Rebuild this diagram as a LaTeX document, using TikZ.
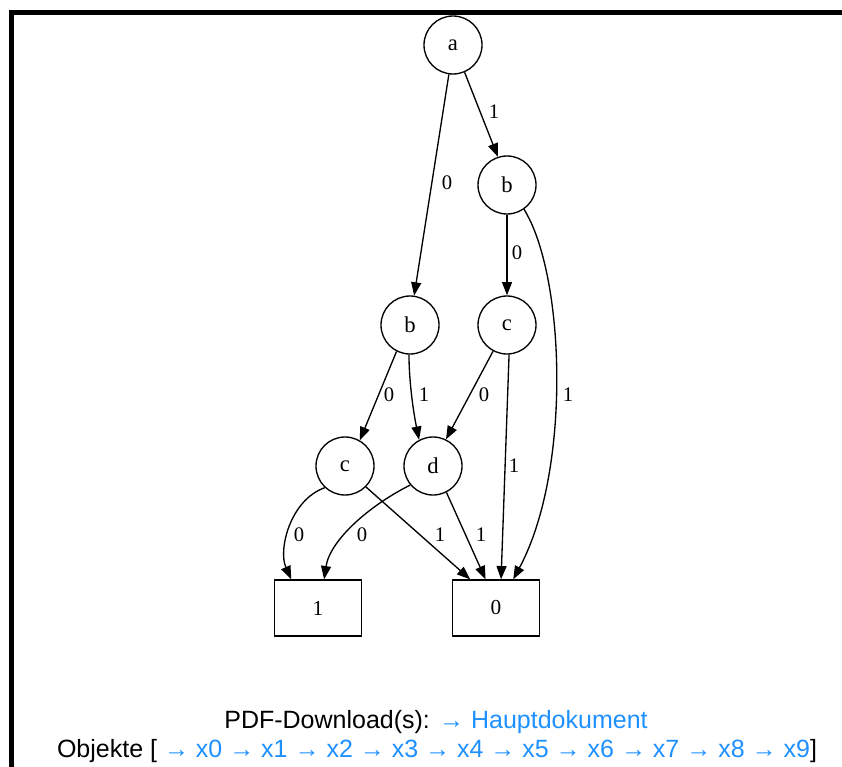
\documentclass[tikz,border=0pt]{standalone}
\usepackage{fontspec}
\setmainfont{Liberation Serif}
\newfontfamily\linkfont{Liberation Sans}
\usetikzlibrary{arrows.meta}
\definecolor{linkblue}{RGB}{30,144,255}

\begin{document}
\begin{tikzpicture}[x=0.75pt,y=0.75pt,yscale=-1,xscale=1,
    var/.style={draw,circle,minimum size=43.5pt,inner sep=0pt,line width=1pt,font=\fontsize{17}{20}\selectfont},
    leaf/.style={draw,rectangle,minimum width=65pt,minimum height=42pt,inner sep=0pt,line width=1pt,font=\fontsize{16}{19}\selectfont},
    edge/.style={line width=1pt,-{Triangle[length=10pt,width=7.5pt]}},
    lbl/.style={inner sep=0.75pt,font=\fontsize{15.5}{18}\selectfont}]
        \useasboundingbox (0,0) rectangle (842,767);
        \draw [line width=3.75pt]  (11.5,767) -- (11.5,12.5) -- (842,12.5) ;
        % decision nodes
        \node [var] (a) at (453,45) {a};
        \node [var] (b1) at (507,185) {b};
        \node [var] (b2) at (410,325) {b};
        \node [var] (c1) at (507,325) {c};
        \node [var] (c2) at (345,466) {c};
        \node [var] (d) at (433,466) {d};
        \node [leaf] (one) at (318,608) {1};
        \node [leaf] (zero) at (496,608) {0};
        % edges
        \draw [edge] (a.-98) -- (b2.82) ;
        \draw [edge] (a.-67) -- (b1.108) ;
        \draw [edge] (b1.-90) -- (c1.90) ;
        \draw [edge] (b1.-55) .. controls (565,275) and (572,470) .. (zero.59) ;
        \draw [edge] (b2.-117) -- (c2.60) ;
        \draw [edge] (b2.-92) .. controls (409,380) and (413,410) .. (d.118) ;
        \draw [edge] (c1.-118) -- (d.64) ;
        \draw [edge] (c1.-86) -- (zero.80) ;
        \draw [edge] (c2.-133) .. controls (290,500) and (278,550) .. (one.133) ;
        \draw [edge] (c2.-45) -- (zero.132) ;
        \draw [edge] (d.-140) .. controls (370,505) and (330,540) .. (one.78) ;
        \draw [edge] (d.-63) -- (zero.110) ;
        % edge labels
        \node [lbl] (la0) at (447,183) {0};
        \node [lbl] (la1) at (494,112) {1};
        \node [lbl] (lb10) at (517,253) {0};
        \node [lbl] (lb11) at (568,395) {1};
        \node [lbl] (lb20) at (389,395) {0};
        \node [lbl] (lb21) at (424,395) {1};
        \node [lbl] (lc10) at (484,395) {0};
        \node [lbl] (lc11) at (514,466) {1};
        \node [lbl] (lc20) at (299,535) {0};
        \node [lbl] (lc21) at (440,535) {1};
        \node [lbl] (ld0) at (362,535) {0};
        \node [lbl] (ld1) at (481,535) {1};
        % links below
        \node [inner sep=0pt,font=\linkfont\fontsize{18.75}{22}\selectfont] (pdf) at (436,722) {PDF-Download(s): \textcolor{linkblue}{→ Hauptdokument}};
        \node [inner sep=0pt,font=\linkfont\fontsize{18.75}{22}\selectfont] (obj) at (437,751) {Objekte [ \textcolor{linkblue}{→ x0 → x1 → x2 → x3 → x4 → x5 → x6 → x7 → x8 → x9}]};
    \end{tikzpicture}
\end{document}
